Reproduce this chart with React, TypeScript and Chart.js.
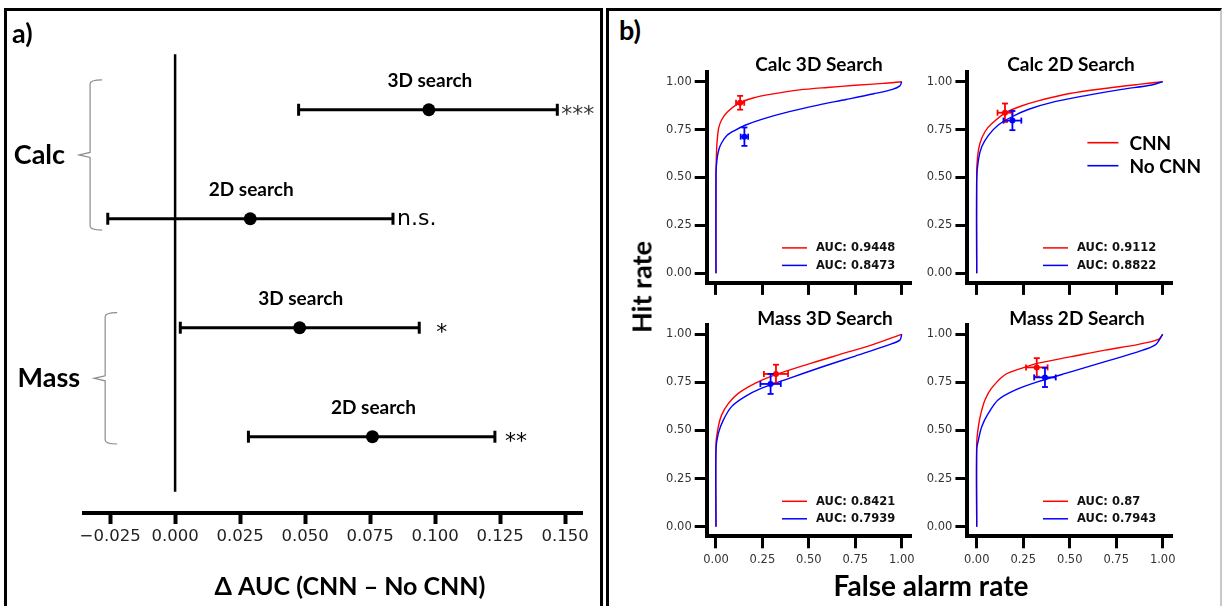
import React, { useEffect, useRef } from "react";
import { Chart, registerables } from "chart.js";

Chart.register(...registerables);

// ---------------- Panel a data ----------------
const deltaSearch = ["3D search", "2D search", "3D search", "2D search"];
const deltaRow = [4, 3, 2, 1];
const deltaAUC = [0.0976, 0.0289, 0.0479, 0.0759];
const deltaLow = [0.0475, -0.0259, 0.002, 0.0282];
const deltaHigh = [0.147, 0.0838, 0.0939, 0.123];
const deltaSig = ["***", "n.s.", "*", "**"];
const deltaTicks = [-0.025, 0, 0.025, 0.05, 0.075, 0.1, 0.125, 0.15];
const deltaTickLabels = ["−0.025", "0.000", "0.025", "0.050", "0.075", "0.100", "0.125", "0.150"];
const groupNames = ["Calc", "Mass"];
const groupTop = [4.275, 2.138];
const groupBottom = [2.896, 0.933];
const groupX = [-0.0327, -0.0269];
const zeroLineY = [0.495, 4.51];

// ---------------- Panel b data ----------------
const rocTitles = ["Calc 3D Search", "Calc 2D Search", "Mass 3D Search", "Mass 2D Search"];
const aucCNN = ["0.9448", "0.9112", "0.8421", "0.87"];
const aucNoCNN = ["0.8473", "0.8822", "0.7939", "0.7943"];
const legendNames = ["CNN", "No CNN"];
const rocTicks = [0, 0.25, 0.5, 0.75, 1];

const calc3dCnnFar = [0, 0, 0.003, 0.008, 0.015, 0.03, 0.06, 0.12, 0.2, 0.3, 0.45, 0.6, 0.75, 0.9, 1.0];
const calc3dCnnHit = [0, 0.5, 0.64, 0.71, 0.76, 0.8, 0.84, 0.885, 0.915, 0.935, 0.957, 0.97, 0.981, 0.991, 1.0];
const calc3dNoFar = [0, 0, 0.005, 0.015, 0.03, 0.06, 0.1, 0.16, 0.25, 0.4, 0.55, 0.7, 0.85, 0.95, 0.99, 1.0];
const calc3dNoHit = [0, 0.52, 0.59, 0.645, 0.68, 0.72, 0.745, 0.774, 0.805, 0.845, 0.878, 0.907, 0.937, 0.96, 0.978, 1.0];

const calc2dCnnFar = [0, 0, 0.005, 0.018, 0.045, 0.08, 0.15, 0.24, 0.33, 0.5, 0.7, 0.87, 1.0];
const calc2dCnnHit = [0, 0.52, 0.61, 0.68, 0.74, 0.78, 0.835, 0.873, 0.9, 0.938, 0.966, 0.986, 1.0];
const calc2dNoFar = [0, 0, 0.009, 0.027, 0.063, 0.116, 0.19, 0.28, 0.42, 0.6, 0.78, 0.94, 1.0];
const calc2dNoHit = [0, 0.49, 0.59, 0.66, 0.72, 0.774, 0.817, 0.856, 0.896, 0.93, 0.96, 0.983, 1.0];

const mass3dCnnFar = [0, 0, 0.0126, 0.03, 0.066, 0.12, 0.21, 0.3, 0.48, 0.66, 0.84, 1.0];
const mass3dCnnHit = [0, 0.43, 0.52, 0.58, 0.64, 0.693, 0.745, 0.783, 0.84, 0.893, 0.945, 1.0];
const mass3dNoFar = [0, 0, 0.0126, 0.04, 0.084, 0.156, 0.246, 0.39, 0.57, 0.75, 0.93, 0.99, 1.0];
const mass3dNoHit = [0, 0.4, 0.485, 0.555, 0.624, 0.676, 0.72, 0.77, 0.83, 0.887, 0.945, 0.97, 1.0];

const mass2dCnnFar = [0, 0, 0.009, 0.023, 0.045, 0.08, 0.152, 0.24, 0.33, 0.51, 0.69, 0.87, 0.977, 1.0];
const mass2dCnnHit = [0, 0.43, 0.52, 0.59, 0.66, 0.72, 0.79, 0.823, 0.85, 0.884, 0.918, 0.948, 0.974, 1.0];
const mass2dNoFar = [0, 0, 0.009, 0.027, 0.063, 0.116, 0.206, 0.33, 0.51, 0.69, 0.87, 0.96, 1.0];
const mass2dNoHit = [0, 0.4, 0.45, 0.52, 0.59, 0.66, 0.71, 0.754, 0.806, 0.858, 0.91, 0.945, 1.0];

const cnnFar = [calc3dCnnFar, calc2dCnnFar, mass3dCnnFar, mass2dCnnFar];
const cnnHit = [calc3dCnnHit, calc2dCnnHit, mass3dCnnHit, mass2dCnnHit];
const noFar = [calc3dNoFar, calc2dNoFar, mass3dNoFar, mass2dNoFar];
const noHit = [calc3dNoHit, calc2dNoHit, mass3dNoHit, mass2dNoHit];

const opCnnFar = [0.13, 0.152, 0.323, 0.323];
const opCnnHit = [0.89, 0.838, 0.794, 0.828];
const opCnnFarErr = [0.022, 0.04, 0.065, 0.058];
const opCnnHitErr = [0.036, 0.048, 0.048, 0.048];
const opNoFar = [0.153, 0.192, 0.294, 0.367];
const opNoHit = [0.713, 0.797, 0.742, 0.776];
const opNoFarErr = [0.02, 0.048, 0.055, 0.058];
const opNoHitErr = [0.048, 0.05, 0.052, 0.05];

// ---------------- layout / style ----------------
const RED = "#ff0000";
const BLUE = "#0000ff";
const DEJAVU = "'DejaVu Sans', sans-serif";
const LATO = "Lato, 'Open Sans', sans-serif";
const sigDx = [4, 4, 17, 10];

const rocAreas = [
  { l: 706.7, r: 911, t: 72.1, b: 282.9 },
  { l: 967.4, r: 1172, t: 72.1, b: 282.9 },
  { l: 706.7, r: 911, t: 324.7, b: 536.3 },
  { l: 967.4, r: 1172, t: 324.7, b: 536.3 },
];
const rocCanvases = [
  { x: 645, y: 58, w: 275, h: 242 },
  { x: 920, y: 58, w: 298, h: 242 },
  { x: 645, y: 312, w: 275, h: 263 },
  { x: 920, y: 312, w: 262, h: 263 },
];
const rocTitlePos = [
  [819, 63],
  [1071, 63],
  [825, 317],
  [1077, 317],
];

function line(ctx: CanvasRenderingContext2D, x1: number, y1: number, x2: number, y2: number) {
  ctx.beginPath();
  ctx.moveTo(x1, y1);
  ctx.lineTo(x2, y2);
  ctx.stroke();
}

function makeErrorBarPlugin(under: boolean) {
  const draw = (chart: any) => {
    const { ctx } = chart;
    const xs = chart.scales.x;
    const ys = chart.scales.y;
    chart.data.datasets.forEach((ds: any) => {
      const eb = ds.errBar;
      if (!eb) return;
      ctx.save();
      ctx.strokeStyle = eb.color;
      ctx.lineWidth = eb.width;
      ctx.lineCap = "butt";
      ds.data.forEach((p: any, i: number) => {
        const px = xs.getPixelForValue(p.x);
        const py = ys.getPixelForValue(p.y);
        if (eb.xLo) {
          const a = xs.getPixelForValue(eb.xLo[i]);
          const b = xs.getPixelForValue(eb.xHi[i]);
          line(ctx, a, py, b, py);
          line(ctx, a, py - eb.cap, a, py + eb.cap);
          line(ctx, b, py - eb.cap, b, py + eb.cap);
        }
        if (eb.yLo) {
          const a = ys.getPixelForValue(eb.yLo[i]);
          const b = ys.getPixelForValue(eb.yHi[i]);
          line(ctx, px, a, px, b);
          line(ctx, px - eb.cap, a, px + eb.cap, a);
          line(ctx, px - eb.cap, b, px + eb.cap, b);
        }
      });
      ctx.restore();
    });
  };
  return {
    id: under ? "errorBarsUnder" : "errorBarsOver",
    beforeDatasetsDraw(chart: any) {
      if (under) draw(chart);
    },
    afterDatasetsDraw(chart: any) {
      if (!under) draw(chart);
    },
  };
}

const panelAAnnotations = {
  id: "panelAAnnotations",
  afterDatasetsDraw(chart: any) {
    const { ctx } = chart;
    const xs = chart.scales.x;
    const ys = chart.scales.y;
    ctx.save();
    ctx.fillStyle = "#000";
    deltaRow.forEach((row, i) => {
      const px = xs.getPixelForValue(deltaAUC[i]);
      const py = ys.getPixelForValue(row);
      ctx.font = `bold 19px ${LATO}`;
      ctx.textAlign = "center";
      ctx.textBaseline = "middle";
      ctx.fillStyle = "#000";
      ctx.fillText(deltaSearch[i], px + 1, py - 29);
      const hx = xs.getPixelForValue(deltaHigh[i]) + sigDx[i];
      ctx.font = `22px ${DEJAVU}`;
      ctx.textAlign = "left";
      ctx.textBaseline = "alphabetic";
      const star = deltaSig[i].startsWith("*");
      ctx.fillStyle = star && i === 0 ? "#333" : "#000";
      ctx.fillText(deltaSig[i], hx, py + (star ? 11.5 : 6.5));
    });
    groupNames.forEach((name, g) => {
      const bx = xs.getPixelForValue(groupX[g]);
      const t = ys.getPixelForValue(groupTop[g]);
      const b = ys.getPixelForValue(groupBottom[g]);
      const m = (t + b) / 2;
      ctx.strokeStyle = "#8c8c8c";
      ctx.lineWidth = 1.2;
      ctx.beginPath();
      ctx.moveTo(bx + 12, t);
      ctx.quadraticCurveTo(bx, t, bx, t + 4);
      ctx.lineTo(bx, m - 2.5);
      ctx.lineTo(bx - 11, m);
      ctx.lineTo(bx, m + 2.5);
      ctx.lineTo(bx, b - 4);
      ctx.quadraticCurveTo(bx, b, bx + 12, b);
      ctx.stroke();
      ctx.font = `bold 27px ${LATO}`;
      ctx.textAlign = "right";
      ctx.textBaseline = "middle";
      ctx.fillStyle = "#000";
      ctx.fillText(name, bx - 25, m);
    });
    ctx.restore();
  },
};

function panelAConfig(): any {
  return {
    type: "scatter",
    data: {
      datasets: [
        {
          data: deltaRow.map((r, i) => ({ x: deltaAUC[i], y: r })),
          pointRadius: 6.5,
          pointBackgroundColor: "#000",
          pointBorderWidth: 0,
          order: 0,
          errBar: { xLo: deltaLow, xHi: deltaHigh, color: "#000", width: 3, cap: 6 },
        },
        {
          type: "line",
          data: zeroLineY.map((v) => ({ x: 0, y: v })),
          borderColor: "#000",
          borderWidth: 2.5,
          pointRadius: 0,
          showLine: true,
          order: 1,
        },
      ],
    },
    options: {
      animation: false,
      responsive: false,
      maintainAspectRatio: false,
      events: [],
      layout: { padding: { left: 84, right: 23, top: 52, bottom: 0 } },
      plugins: { legend: { display: false }, tooltip: { enabled: false } },
      scales: {
        x: {
          type: "linear",
          min: -0.03504,
          max: 0.1565,
          afterBuildTicks: (s: any) => {
            s.ticks = deltaTicks.map((v) => ({ value: v }));
          },
          afterFit: (s: any) => {
            s.height = 93;
          },
          grid: { display: true, drawOnChartArea: false, drawTicks: true, tickLength: 11, tickWidth: 4, tickColor: "#000" },
          border: { display: true, color: "#000", width: 4 },
          ticks: {
            autoSkip: false,
            maxRotation: 0,
            minRotation: 0,
            padding: 3,
            color: "#222",
            font: { family: DEJAVU, size: 16.5 },
            callback: (_v: any, i: number) => deltaTickLabels[i],
          },
        },
        y: { type: "linear", display: false, min: 0.3, max: 4.53 },
      },
    },
    plugins: [makeErrorBarPlugin(true), panelAAnnotations],
  };
}

const aucLegendPlugin = {
  id: "aucLegend",
  afterDraw(chart: any) {
    const { ctx, chartArea: a } = chart;
    const items = chart.data.datasets.filter((d: any) => d.inLegend);
    ctx.save();
    items.forEach((d: any, k: number) => {
      const yy = a.bottom - 35 + k * 17.5;
      ctx.strokeStyle = d.borderColor;
      ctx.lineWidth = 1.5;
      line(ctx, a.right - 129, yy, a.right - 104, yy);
      ctx.font = `bold 11.5px ${DEJAVU}`;
      ctx.fillStyle = "#111";
      ctx.textAlign = "left";
      ctx.textBaseline = "middle";
      ctx.fillText(d.label, a.right - 95, yy + 0.5);
    });
    ctx.restore();
  },
};

const bigLegendPlugin = {
  id: "bigLegend",
  afterDraw(chart: any) {
    const { ctx, chartArea: a } = chart;
    const colors = [RED, BLUE];
    ctx.save();
    legendNames.forEach((name, k) => {
      const yy = a.top + 70.6 + k * 23;
      ctx.strokeStyle = colors[k];
      ctx.lineWidth = 1.6;
      line(ctx, a.left + 120, yy, a.left + 151, yy);
      ctx.font = `bold 19px ${LATO}`;
      ctx.fillStyle = "#000";
      ctx.textAlign = "left";
      ctx.textBaseline = "middle";
      ctx.fillText(name, a.left + 162, yy + 1);
    });
    ctx.restore();
  },
};

function rocConfig(i: number): any {
  const area = rocAreas[i];
  const cv = rocCanvases[i];
  const showX = i >= 2;
  const plugins: any[] = [makeErrorBarPlugin(false), aucLegendPlugin];
  if (i === 1) plugins.push(bigLegendPlugin);
  const tickFont = { family: DEJAVU, size: 11.5 };
  return {
    type: "line",
    data: {
      datasets: [
        {
          label: "AUC: " + aucCNN[i],
          data: cnnFar[i].map((v, k) => ({ x: v, y: cnnHit[i][k] })),
          borderColor: RED,
          borderWidth: 1.4,
          pointRadius: 0,
          tension: 0.3,
          fill: false,
          inLegend: true,
          order: 3,
        },
        {
          label: "AUC: " + aucNoCNN[i],
          data: noFar[i].map((v, k) => ({ x: v, y: noHit[i][k] })),
          borderColor: BLUE,
          borderWidth: 1.4,
          pointRadius: 0,
          tension: 0.3,
          fill: false,
          inLegend: true,
          order: 2,
        },
        {
          type: "scatter",
          data: [{ x: opCnnFar[i], y: opCnnHit[i] }],
          pointRadius: 3,
          pointBackgroundColor: RED,
          pointBorderWidth: 0,
          order: 1,
          errBar: {
            xLo: [opCnnFar[i] - opCnnFarErr[i]],
            xHi: [opCnnFar[i] + opCnnFarErr[i]],
            yLo: [opCnnHit[i] - opCnnHitErr[i]],
            yHi: [opCnnHit[i] + opCnnHitErr[i]],
            color: RED,
            width: 1.8,
            cap: 3,
          },
        },
        {
          type: "scatter",
          data: [{ x: opNoFar[i], y: opNoHit[i] }],
          pointRadius: 3,
          pointBackgroundColor: BLUE,
          pointBorderWidth: 0,
          order: 0,
          errBar: {
            xLo: [opNoFar[i] - opNoFarErr[i]],
            xHi: [opNoFar[i] + opNoFarErr[i]],
            yLo: [opNoHit[i] - opNoHitErr[i]],
            yHi: [opNoHit[i] + opNoHitErr[i]],
            color: BLUE,
            width: 1.8,
            cap: 3,
          },
        },
      ],
    },
    options: {
      animation: false,
      responsive: false,
      maintainAspectRatio: false,
      events: [],
      layout: {
        padding: { left: 0, top: area.t - cv.y, right: cv.x + cv.w - area.r, bottom: 0 },
      },
      plugins: { legend: { display: false }, tooltip: { enabled: false } },
      scales: {
        x: {
          type: "linear",
          min: -0.05,
          max: 1.05,
          afterBuildTicks: (s: any) => {
            s.ticks = rocTicks.map((v) => ({ value: v }));
          },
          afterFit: (s: any) => {
            s.height = cv.y + cv.h - area.b;
          },
          grid: { display: true, drawOnChartArea: false, drawTicks: true, tickLength: 12, tickWidth: 3, tickColor: "#000" },
          border: { display: true, color: "#000", width: 4 },
          ticks: {
            display: showX,
            autoSkip: false,
            maxRotation: 0,
            minRotation: 0,
            padding: 5,
            color: "#333",
            font: tickFont,
            callback: (v: any) => Number(v).toFixed(2),
          },
        },
        y: {
          type: "linear",
          min: -0.05,
          max: 1.05,
          afterBuildTicks: (s: any) => {
            s.ticks = rocTicks.map((v) => ({ value: v }));
          },
          afterFit: (s: any) => {
            s.width = area.l - cv.x;
          },
          grid: { display: true, drawOnChartArea: false, drawTicks: true, tickLength: 12, tickWidth: 3, tickColor: "#000" },
          border: { display: true, color: "#000", width: 4 },
          ticks: {
            autoSkip: false,
            padding: 3,
            color: "#333",
            font: tickFont,
            callback: (v: any) => Number(v).toFixed(2),
          },
        },
      },
    },
    plugins,
  };
}

function ChartCanvas(props: { x: number; y: number; w: number; h: number; make: () => any }) {
  const ref = useRef<HTMLCanvasElement | null>(null);
  useEffect(() => {
    const chart = new Chart(ref.current as HTMLCanvasElement, props.make());
    return () => chart.destroy();
  }, []);
  return (
    <canvas
      ref={ref}
      width={props.w}
      height={props.h}
      style={{ position: "absolute", left: props.x, top: props.y, width: props.w, height: props.h }}
    />
  );
}

const textBase: React.CSSProperties = {
  position: "absolute",
  fontFamily: LATO,
  fontWeight: 700,
  color: "#000",
  whiteSpace: "nowrap",
  lineHeight: 1,
};

export default function App() {
  return (
    <div
      style={{
        position: "absolute",
        left: 0,
        top: 0,
        width: 1225,
        height: 606,
        overflow: "hidden",
        background: "#fff",
      }}
    >
      <div
        style={{
          position: "absolute",
          left: 4,
          top: 8,
          width: 599,
          height: 700,
          boxSizing: "border-box",
          border: "3px solid #000",
        }}
      />
      <div
        style={{
          position: "absolute",
          left: 606,
          top: 8,
          width: 616,
          height: 700,
          boxSizing: "border-box",
          borderLeft: "3px solid #000",
          borderTop: "3px solid #000",
          borderRight: "2px solid #c8c8c8",
        }}
      />
      <ChartCanvas x={0} y={0} w={605} h={606} make={panelAConfig} />
      {rocCanvases.map((c, i) => (
        <ChartCanvas key={i} x={c.x} y={c.y} w={c.w} h={c.h} make={() => rocConfig(i)} />
      ))}
      <div style={{ ...textBase, left: 12, top: 32, fontSize: 27, transform: "translateY(-50%)" }}>a)</div>
      <div style={{ ...textBase, left: 619, top: 29, fontSize: 27, transform: "translateY(-50%)" }}>b)</div>
      <div style={{ ...textBase, left: 350, top: 585, fontSize: 25, transform: "translate(-50%,-50%)" }}>
        Δ AUC (CNN – No CNN)
      </div>
      {rocTitles.map((t, i) => (
        <div
          key={t}
          style={{
            ...textBase,
            left: rocTitlePos[i][0],
            top: rocTitlePos[i][1],
            fontSize: 19,
            transform: "translate(-50%,-50%)",
          }}
        >
          {t}
        </div>
      ))}
      <div
        style={{
          ...textBase,
          left: 641,
          top: 287,
          fontSize: 27,
          transform: "translate(-50%,-50%) rotate(-90deg)",
        }}
      >
        Hit rate
      </div>
      <div style={{ ...textBase, left: 931, top: 585, fontSize: 28, transform: "translate(-50%,-50%)" }}>
        False alarm rate
      </div>
    </div>
  );
}
